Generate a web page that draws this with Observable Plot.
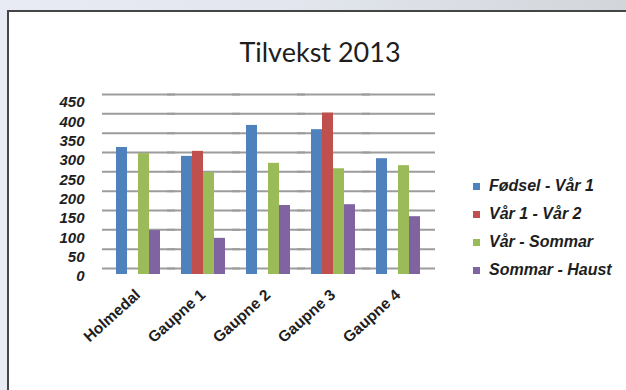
<!DOCTYPE html>
<html>
<head>
<meta charset="utf-8">
<script src="https://cdn.jsdelivr.net/npm/d3@7"></script>
<script src="https://cdn.jsdelivr.net/npm/@observablehq/plot@0.6"></script>
<style>
html,body{margin:0;padding:0;}
body{width:626px;height:390px;overflow:hidden;position:relative;
  background:linear-gradient(90deg,#e8ebf4 0%,#e3e6ee 45%,#d2d6da 100%);
  font-family:"Liberation Sans",Arial,sans-serif;}
#panel{position:absolute;left:7px;top:10px;width:660px;height:420px;background:#fff;border:2px solid #454545;box-sizing:border-box;}
#chart{position:absolute;left:0;top:0;}
#title{position:absolute;left:0;top:38px;width:640px;text-align:center;font-family:Lato,"Open Sans",sans-serif;font-size:27px;line-height:27px;color:#1e1e1e;}
#legend{position:absolute;left:473px;top:0;}
.row{position:absolute;left:0;height:20px;display:flex;align-items:center;white-space:nowrap;}
.sw{width:7px;height:7px;margin-right:9px;}
.lab{font-weight:bold;font-style:italic;font-size:16px;color:#1e1e1e;}
</style>
</head>
<body>
<div id="panel"></div>
<div id="chart"></div>
<div id="title">Tilvekst 2013</div>
<div id="legend"></div>
<script>
const categories = ["Holmedal", "Gaupne 1", "Gaupne 2", "Gaupne 3", "Gaupne 4"];
const seriesNames = ["Fødsel - Vår 1", "Vår 1 - Vår 2", "Vår - Sommar", "Sommar - Haust"];
const fodselVar1 = [313, 290, 370, 359, 284];
const var1Var2 = [null, 303, null, 402, null];
const varSommar = [297, 248, 272, 258, 266];
const sommarHaust = [98, 78, 163, 165, 134];
const seriesColors = ["#4f81bd", "#c0504d", "#9bbb59", "#8064a2"];
const yTicks = [0, 50, 100, 150, 200, 250, 300, 350, 400, 450];

const seriesValues = [fodselVar1, var1Var2, varSommar, sommarHaust];
const rows = [];
categories.forEach((c, i) => {
  seriesNames.forEach((s, j) => {
    rows.push({category: c, series: s, value: seriesValues[j][i]});
  });
});

const chart = Plot.plot({
  width: 626,
  height: 390,
  marginTop: 94,
  marginBottom: 122,
  marginLeft: 95,
  marginRight: 187,
  style: {fontFamily: '"Liberation Sans", Arial, sans-serif', background: "transparent", color: "#1e1e1e"},
  fx: {domain: categories, paddingInner: 0.28, paddingOuter: 0.28},
  x: {domain: seriesNames, padding: 0, axis: null},
  y: {domain: [0, 450], axis: null},
  color: {domain: seriesNames, range: seriesColors},
  marks: [
    Plot.ruleY(yTicks, {stroke: "#9c9c9c", strokeWidth: 2, insetLeft: -12, insetRight: -14}),
    Plot.barY(rows, {fx: "category", x: "series", y: "value", fill: "series", insetBottom: -6, filter: d => d.value != null}),
    Plot.axisY(yTicks, {anchor: "left", label: null, tickSize: 0, tickPadding: 30, dy: 8, fontSize: 15, fontWeight: "bold", fontStyle: "italic", fill: "#1e1e1e"}),
    Plot.axisFx({anchor: "bottom", tickSize: 0, tickRotate: -42, tickPadding: 24, fontSize: 15.5, fontWeight: "bold", label: null, fill: "#1e1e1e"})
  ]
});
document.getElementById("chart").appendChild(chart);

const legend = document.getElementById("legend");
const rowCenters = [186, 214, 242, 270];
seriesNames.forEach((s, j) => {
  const r = document.createElement("div");
  r.className = "row";
  r.style.top = (rowCenters[j] - 10) + "px";
  const sw = document.createElement("span");
  sw.className = "sw";
  sw.style.background = seriesColors[j];
  const t = document.createElement("span");
  t.className = "lab";
  t.textContent = s;
  r.appendChild(sw);
  r.appendChild(t);
  legend.appendChild(r);
});
</script>
</body>
</html>
